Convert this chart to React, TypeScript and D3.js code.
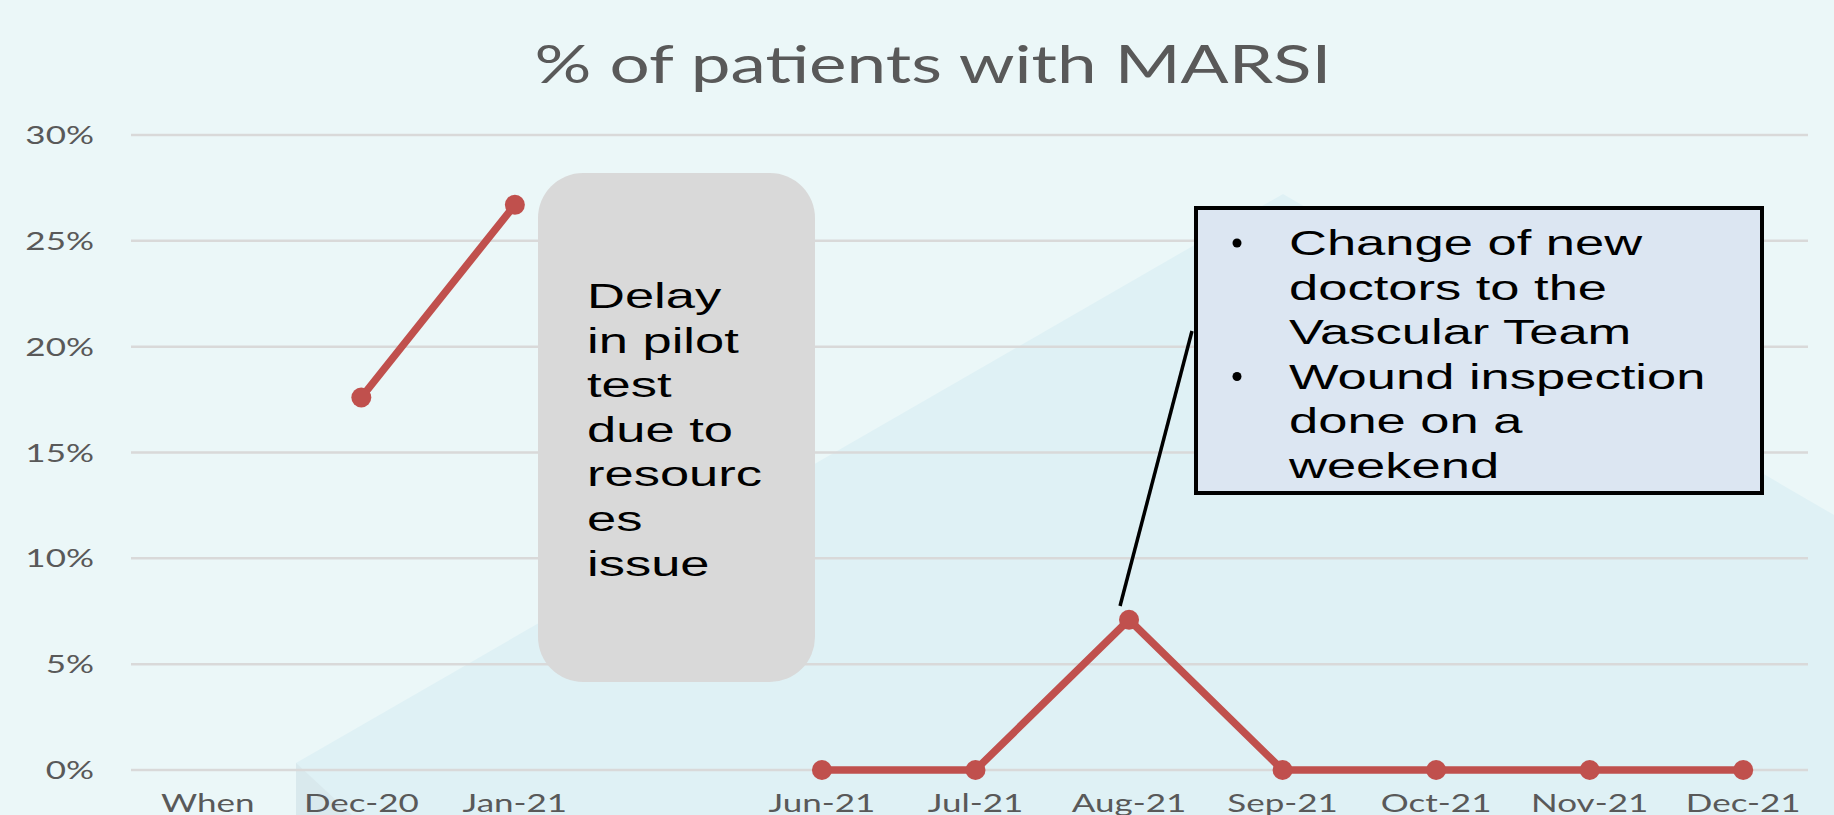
import React, { useEffect } from "react";
import * as d3 from "d3";

// categories along the x axis (one blank month slot between Jan-21 and Jun-21)
const categories = ["When", "Dec-20", "Jan-21", "", "Jun-21", "Jul-21", "Aug-21", "Sep-21", "Oct-21", "Nov-21", "Dec-21"];
// % of patients with MARSI, null = no data
const marsiPct: (number | null)[] = [null, 17.6, 26.7, null, 0, 0, 7.1, 0, 0, 0, 0];
const yTicks = [0, 5, 10, 15, 20, 25, 30];

const delayNote = ["Delay", "in pilot", "test", "due to", "resourc", "es", "issue"];
const changeNote = [
	["Change of new", "doctors to the", "Vascular Team"],
	["Wound inspection", "done on a", "weekend"],
];

const W = 1834;
const H = 815;
const margin = { left: 131, right: 14, top: 135, bottom: 45 };
const gridEnd = 1808;

const labelFont = "Lato, 'Open Sans', sans-serif";
const noteFont = "'Liberation Sans', Arial, sans-serif";

// text stretched horizontally like the source picture
const SText = ({ x, y, sx, children, ...rest }: any) => (
	<text transform={`translate(${x},${y}) scale(${sx},1)`} {...rest}>
		{children}
	</text>
);

const App: React.FC = () => {
	useEffect(() => {
		document.body.style.margin = "0";
		document.body.style.overflow = "hidden";
	}, []);

	const x = d3
		.scaleBand<number>()
		.domain(d3.range(categories.length))
		.range([margin.left, W - margin.right]);
	const cx = (i: number) => x(i)! + x.bandwidth() / 2;

	const y = d3
		.scaleLinear()
		.domain([0, 30])
		.range([H - margin.bottom, margin.top]);

	const line = d3
		.line<number | null>()
		.defined((d) => d != null)
		.x((_, i) => cx(i))
		.y((d) => y(d as number));

	const aug = categories.indexOf("Aug-21");

	return (
		<svg width={W} height={H} style={{ position: "fixed", left: 0, top: 0, display: "block" }}>
			{/* background */}
			<rect width={W} height={H} fill="#EBF7F8" />
			<polygon points={`296,763 1283,194 ${W},515 ${W},${H} 296,${H}`} fill="#DFF1F5" />
			<polygon points={`296,763 296,${H} 352,${H}`} fill="#D9E9ED" />

			{/* title */}
			<text
				x={933}
				y={83}
				textAnchor="middle"
				textLength={797}
				lengthAdjust="spacingAndGlyphs"
				fontFamily={labelFont}
				fontSize={53}
				fill="#595959"
			>
				% of patients with MARSI
			</text>

			{/* gridlines + y labels */}
			{yTicks.map((t) => (
				<g key={t}>
					<line x1={margin.left} x2={gridEnd} y1={y(t)} y2={y(t)} stroke="#D9D9D9" strokeWidth={2.5} />
					<SText x={94} y={y(t) + 9} sx={1.4} textAnchor="end" fontFamily={labelFont} fontSize={25} fill="#595959">
						{t}%
					</SText>
				</g>
			))}

			{/* x labels */}
			{categories.map((c, i) =>
				c ? (
					<SText key={i} x={cx(i)} y={812} sx={1.4} textAnchor="middle" fontFamily={labelFont} fontSize={25} fill="#595959">
						{c}
					</SText>
				) : null
			)}

			{/* series */}
			<path d={line(marsiPct) ?? ""} fill="none" stroke="#C0504D" strokeWidth={7.5} strokeLinejoin="round" />
			{marsiPct.map((v, i) =>
				v == null ? null : <circle key={i} cx={cx(i)} cy={y(v)} r={10} fill="#C0504D" />
			)}

			{/* delay note */}
			<rect x={538} y={173} width={277} height={509} rx={45} ry={45} fill="#D9D9D9" />
			{delayNote.map((s, i) => (
				<SText key={s} x={587} y={308 + i * 44.6} sx={1.5} fontFamily={noteFont} fontSize={35} fill="#000">
					{s}
				</SText>
			))}

			{/* callout for Aug-21 */}
			<line x1={cx(aug) - 9} y1={606} x2={1192} y2={331} stroke="#000" strokeWidth={3.5} />
			<rect x={1196} y={208} width={566} height={285} fill="#DCE6F2" stroke="#000" strokeWidth={4} />
			{changeNote.flatMap((group, g) =>
				group.map((s, j) => {
					const row = g * 3 + j;
					const by = 255 + row * 44.5;
					return (
						<g key={s}>
							{j === 0 && <circle cx={1237} cy={by - 12} r={4.5} fill="#000" />}
							<SText x={1289} y={by} sx={1.5} fontFamily={noteFont} fontSize={35} fill="#000">
								{s}
							</SText>
						</g>
					);
				})
			)}
		</svg>
	);
};

export default App;
